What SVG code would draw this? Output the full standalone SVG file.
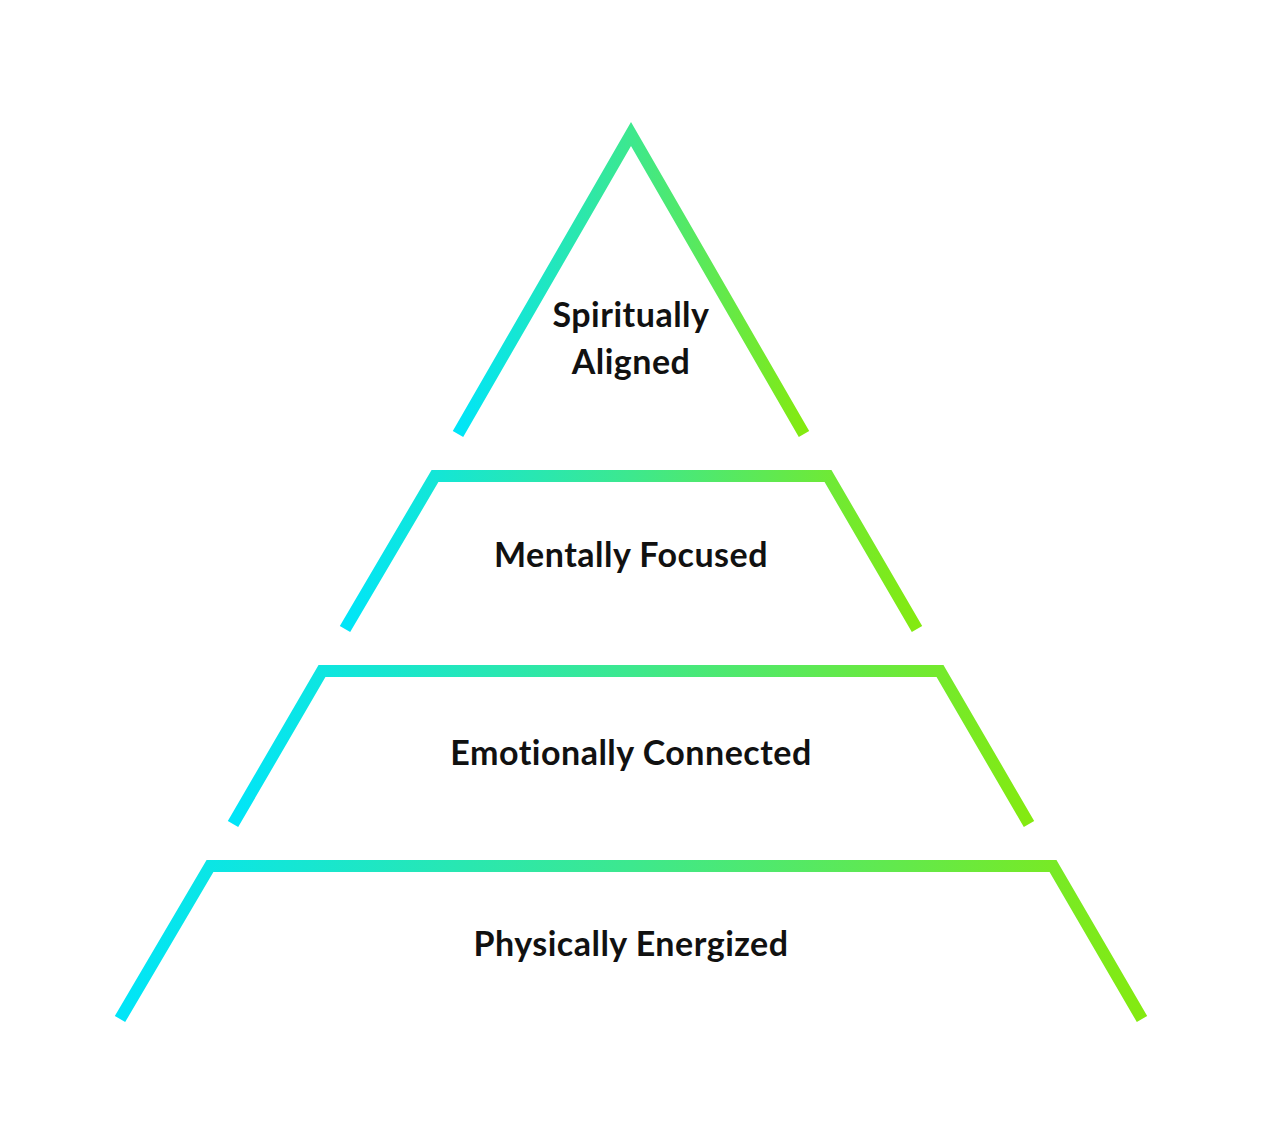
<svg xmlns="http://www.w3.org/2000/svg" width="1280" height="1136" viewBox="0 0 1280 1136">
<defs>
<linearGradient id="g" x1="0" y1="0" x2="1" y2="0">
<stop offset="0" stop-color="#00E5F8"/>
<stop offset="0.5" stop-color="#3DE88E"/>
<stop offset="1" stop-color="#84EA10"/>
</linearGradient>
<style>
.tier{fill:none;stroke:url(#g);stroke-width:12;stroke-linejoin:miter;stroke-linecap:butt;stroke-miterlimit:10}
.lbl{font-family:Lato,"Open Sans","Liberation Sans",sans-serif;font-weight:bold;font-size:34px;letter-spacing:0.5px;font-variant-ligatures:none;fill:#111;text-anchor:middle}
</style>
</defs>
<rect width="1280" height="1136" fill="#fff"/>
<g id="tier-spiritual">
<polyline class="tier" points="458,434 631,134 804,434"/>
<text class="lbl" x="631" y="327">Spiritually</text>
<text class="lbl" x="631" y="374">Aligned</text>
</g>
<g id="tier-mental">
<polyline class="tier" points="345,629 435,476 828,476 917,629"/>
<text class="lbl" x="631" y="567">Mentally Focused</text>
</g>
<g id="tier-emotional">
<polyline class="tier" points="233,824 322,671 940,671 1029,824"/>
<text class="lbl" x="631" y="765">Emotionally Connected</text>
</g>
<g id="tier-physical">
<polyline class="tier" points="120,1019 210,866 1053,866 1142,1019"/>
<text class="lbl" x="631" y="956">Physically Energized</text>
</g>
<g id="connectors"></g>
</svg>
